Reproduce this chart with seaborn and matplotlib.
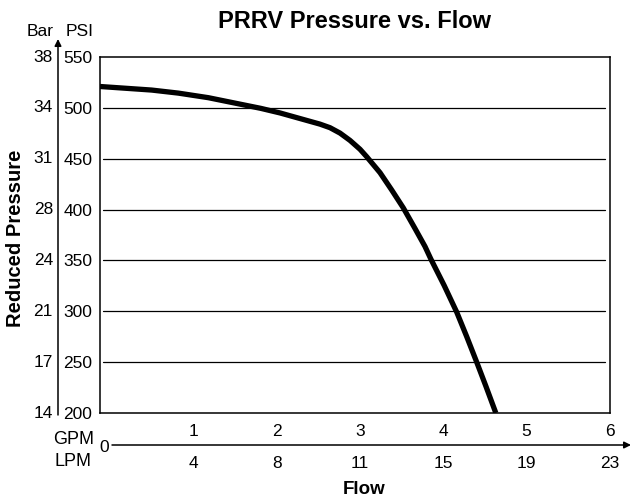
import matplotlib
matplotlib.use("Agg")
import matplotlib.pyplot as plt
import matplotlib.transforms as mtransforms
import seaborn as sns

# curve (GPM vs PSI)
flow_gpm = [-0.12, 0.50, 0.82, 1.18, 1.42, 1.81, 2.04, 2.28, 2.52, 2.64,
            2.76, 2.88, 3.00, 3.08, 3.24, 3.38, 3.52, 3.66, 3.78, 3.85,
            4.01, 4.16, 4.28, 4.40, 4.51, 4.63]
pressure_psi = [521, 517.5, 514.5, 510, 506, 499.5, 495, 489.5, 484, 480.5,
                475.2, 468, 459.3, 452, 436.3, 419.3, 401.6, 381.4, 363.7,
                351.4, 325.4, 299.3, 275.2, 250.1, 226.5, 200]

psi_ticks = [200, 250, 300, 350, 400, 450, 500, 550]
bar_labels = ["14", "17", "21", "24", "28", "31", "34", "38"]
gpm_ticks = [1, 2, 3, 4, 5, 6]
lpm_labels = ["4", "8", "11", "15", "19", "23"]

W, H = 630, 501
sns.set_style("white")
plt.rcParams["font.family"] = ["Liberation Sans", "DejaVu Sans"]
plt.rcParams["text.color"] = "black"
plt.rcParams["ytick.color"] = "black"
plt.rcParams["ytick.labelcolor"] = "black"

fig = plt.figure(figsize=(W / 100, H / 100), dpi=100)
ax = fig.add_axes([100 / W, (H - 413) / H, 510 / W, 356 / H])


def axx(px):
    return (px - 100) / 510


def axy(py):
    return (413 - py) / 356


for y in psi_ticks[1:-1]:
    ax.axhline(y, xmin=0.006, xmax=0.99, color="black", lw=0.9, zorder=1)

sns.lineplot(x=flow_gpm, y=pressure_psi, color="black", lw=3.8, ax=ax,
             sort=False, zorder=3, solid_capstyle="butt",
             solid_joinstyle="round")

ax.set_xlim(-0.12, 6)
ax.set_ylim(200, 550)
ax.set_xticks([])
ax.set_yticks(psi_ticks)
ax.set_yticklabels([str(v) for v in psi_ticks], fontsize=12.5)
ax.tick_params(axis="y", length=0, pad=5.5, labelcolor="black")
ax.set_xlabel("")
ax.set_ylabel("")
for s in ax.spines.values():
    s.set_color("black")
    s.set_linewidth(1.1)

# Bar labels, left of the vertical arrow
ytr = mtransforms.blended_transform_factory(ax.transAxes, ax.transData)
for y, lab in zip(psi_ticks, bar_labels):
    ax.text(axx(53), y, lab, transform=ytr, ha="right", va="center",
            fontsize=12.5, clip_on=False)

ax.annotate("", xy=(axx(58), axy(39)), xytext=(axx(58), axy(415)),
            xycoords="axes fraction", textcoords="axes fraction",
            arrowprops=dict(arrowstyle="-|>", color="black", lw=1.1,
                            mutation_scale=10, shrinkA=0, shrinkB=0))
ax.text(axx(40), axy(32), "Bar", transform=ax.transAxes, ha="center",
        va="center", fontsize=12.5)
ax.text(axx(80), axy(32), "PSI", transform=ax.transAxes, ha="center",
        va="center", fontsize=12.5)

# flow axis below
xtr = mtransforms.blended_transform_factory(ax.transData, ax.transAxes)
ax.annotate("", xy=(axx(631), axy(445)), xytext=(axx(112), axy(445)),
            xycoords="axes fraction", textcoords="axes fraction",
            arrowprops=dict(arrowstyle="-|>", color="black", lw=1.1,
                            mutation_scale=10, shrinkA=0, shrinkB=0))
for g, lab in zip(gpm_ticks, lpm_labels):
    ax.text(g, axy(432), str(g), transform=xtr, ha="center", va="center",
            fontsize=12.5, clip_on=False)
    ax.text(g, axy(463), lab, transform=xtr, ha="center", va="center",
            fontsize=12.5, clip_on=False)
ax.text(axx(104), axy(448), "0", transform=ax.transAxes, ha="center",
        va="center", fontsize=12.5)
ax.text(axx(94), axy(439), "GPM", transform=ax.transAxes, ha="right",
        va="center", fontsize=13)
ax.text(axx(91), axy(461), "LPM", transform=ax.transAxes, ha="right",
        va="center", fontsize=13)

ax.text(axx(364), axy(490), "Flow", transform=ax.transAxes, ha="center",
        va="center", fontsize=13.5, fontweight="bold")
ax.text(axx(16), axy(238), "Reduced Pressure", transform=ax.transAxes,
        ha="center", va="center", rotation=90, fontsize=14.5,
        fontweight="bold")
ax.text(axx(354), axy(21), "PRRV Pressure vs. Flow", transform=ax.transAxes,
        ha="center", va="center", fontsize=17, fontweight="bold")

fig.savefig("out.png", dpi=100)
